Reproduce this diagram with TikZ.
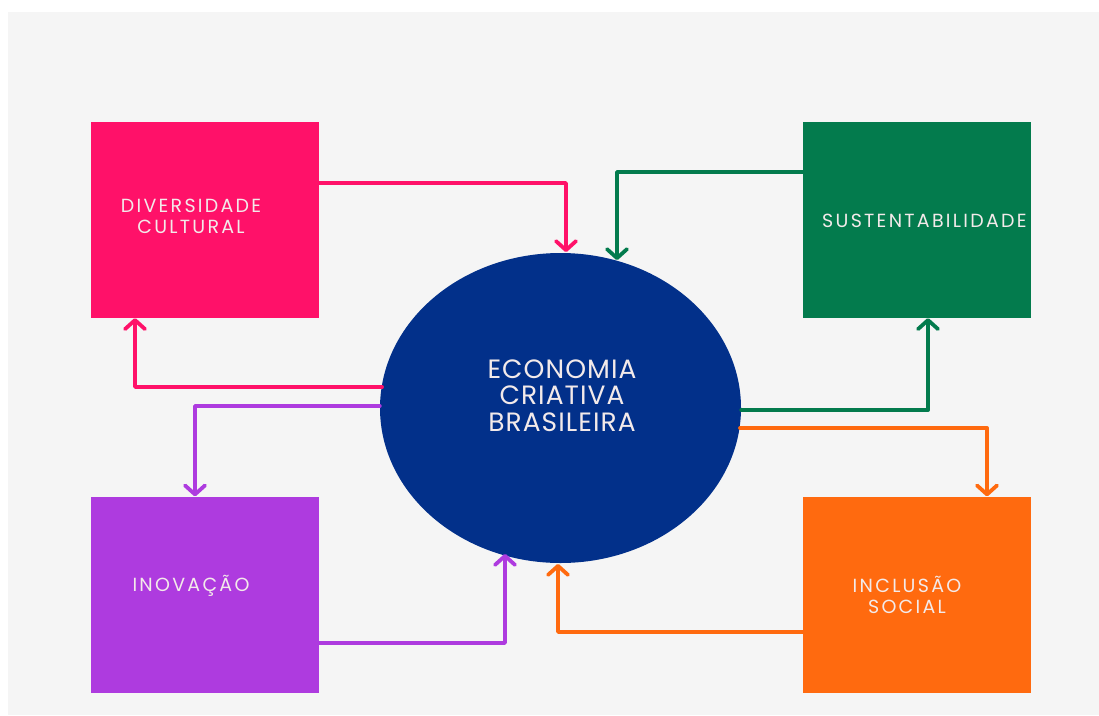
\documentclass[tikz,border=0pt]{standalone}
\usepackage{fontspec}
\setmainfont{Poppins}
\newfontfamily\lblfont[LetterSpace=12]{Poppins}
\newfontfamily\biglblfont[LetterSpace=4]{Poppins}
\usetikzlibrary{arrows.meta,shapes.geometric}
\definecolor{bgc}{HTML}{F5F5F5}
\definecolor{pinkc}{HTML}{FF1169}
\definecolor{purplec}{HTML}{AE3BDF}
\definecolor{greenc}{HTML}{037B4D}
\definecolor{orangec}{HTML}{FF6A0F}
\definecolor{navyc}{HTML}{02308A}
\definecolor{txtc}{HTML}{F3EAEA}
\tikzset{
  card/.style={rectangle, draw=none, minimum width=228pt, minimum height=196pt, inner sep=0pt},
  lbl/.style={text=txtc, font=\lblfont\fontsize{19}{21}\selectfont, align=center, inner sep=0pt},
  biglbl/.style={text=txtc, font=\biglblfont\fontsize{26.5}{26.7}\selectfont, align=center, inner sep=0pt},
  link/.style={line width=3.8pt, line cap=round, line join=round, -{Straight Barb[length=9pt,width=20pt,round]}},
}
\begin{document}
\begin{tikzpicture}[x=1pt,y=-1pt]
\useasboundingbox (0,0) rectangle (1099,715);
\fill[white] (0,0) rectangle (1099,715);
\fill[bgc] (8,12) rectangle (1099,715);

\node[card, fill=pinkc] (div) at (205,220) {};
\node[card, fill=greenc] (sus) at (916.5,220) {};
\node[card, fill=purplec] (ino) at (205,594.5) {};
\node[card, fill=orangec] (inc) at (916.5,594.5) {};
\node[ellipse, fill=navyc, minimum width=361pt, minimum height=310pt, inner sep=0pt] (eco) at (560.5,408) {};

\node[lbl] (tdiv) at (191,216.5) {DIVERSIDADE\\CULTURAL};
\node[lbl, anchor=west] (tsus) at (822,221) {SUSTENTABILIDADE};
\node[lbl] (tino) at (191,585.5) {INOVAÇÃO};
\node[lbl] (tinc) at (907,595) {INCLUSÃO\\SOCIAL};
\node[biglbl] (teco) at (562,395.5) {ECONOMIA\\CRIATIVA\\BRASILEIRA};

% connectors
\draw[link, draw=pinkc] (div.east |- 0,183) -| (566,252);
\draw[link, draw=greenc] (sus.west |- 0,172) -| (617,260);
\draw[link, draw=pinkc] (382,387) -| (div.south -| 135,0);
\draw[link, draw=purplec] (eco.west |- 0,406) -| (ino.north -| 195,0);
\draw[link, draw=greenc] (eco.east |- 0,410) -| (sus.south -| 928,0);
\draw[link, draw=orangec] (740,428) -| (inc.north -| 987,0);
\draw[link, draw=purplec] (ino.east |- 0,643) -| (505,554);
\draw[link, draw=orangec] (inc.west |- 0,632) -| (558,564);
\end{tikzpicture}
\end{document}
